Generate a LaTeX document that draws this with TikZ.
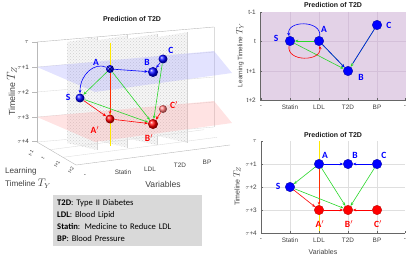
\documentclass[tikz,border=0pt]{standalone}
\usepackage{fontspec}
\setmainfont{Liberation Sans}
\newfontfamily\calfont{Carlito}
\usetikzlibrary{arrows.meta,patterns}
\definecolor{mblue}{RGB}{0,0,255}
\definecolor{mgreen}{RGB}{40,215,40}
\definecolor{mred}{RGB}{255,0,0}
\definecolor{myellow}{RGB}{255,232,0}
\definecolor{mpurple}{RGB}{227,210,231}
\definecolor{gridp}{RGB}{212,192,217}
\definecolor{legendgray}{RGB}{217,217,217}
\begin{document}
\begin{tikzpicture}[x=1pt,y=-1pt,
  every node/.style={inner sep=0pt},
  tk/.style={font=\fontsize{6.3}{7}\selectfont, text=black!80},
  tky/.style={font=\fontsize{4.8}{5}\selectfont, text=black!80},
  axl/.style={font=\fontsize{8.1}{12.5}\selectfont, text=black!75},
  axs/.style={font=\fontsize{6.4}{8}\selectfont, text=black!75},
  ttl/.style={font=\bfseries\fontsize{7}{8}\selectfont, text=black!90},
  lblb/.style={font=\calfont\bfseries\fontsize{9.5}{10}\selectfont, text=mblue},
  lblr/.style={font=\calfont\bfseries\fontsize{9.5}{10}\selectfont, text=mred},
  arr/.style={-{Stealth[length=3.4pt,width=2.8pt]}, line width=0.6pt},
  b3/.style={circle, inner sep=0pt, shading=ball, ball color=mblue},
  r3/.style={circle, inner sep=0pt, shading=ball, ball color=mred},
  d2b/.style={circle, inner sep=0pt, minimum size=9.5pt, fill=mblue, draw=blue!60!black, line width=0.3pt},
  d2r/.style={circle, inner sep=0pt, minimum size=9.5pt, fill=mred, draw=red!70!black, line width=0.3pt},
  boxline/.style={gray!55, line width=0.4pt},
  faint/.style={gray!28, line width=0.35pt},
  stripe/.style={fill=gray!7},
  stripedots/.style={pattern=crosshatch dots, pattern color=gray!38},
  axline/.style={black!60, line width=0.45pt}
]
\useasboundingbox (0,0) rectangle (414,259);

%================ 3D panel ================
\node[ttl] (t3d) at (132,19) {Prediction of T2D};

% back lines
\draw[boxline] (37,42) -- (214,27);
\draw[faint] (214,27) -- (214,127);
\draw[faint] (37,142) -- (214,127);
\foreach \z in {67,92,117} \draw[faint] (37,\z) -- (214,\z-15);

% dotted strips
\foreach \i in {0,1,2,3}{
  \pgfmathsetmacro{\L}{67+30*\i}
  \pgfmathsetmacro{\R}{97+30*\i}
  \pgfmathsetmacro{\tl}{42-1.6*\i}
  \pgfmathsetmacro{\tr}{37-1.6*\i}
  \pgfmathsetmacro{\br}{150-2.4*\i}
  \pgfmathsetmacro{\bl}{143-2.4*\i}
  \fill[stripe] (\L,\tl) -- (\R,\tr) -- (\R,\br) -- (\L,\bl) -- cycle;
  \fill[stripedots] (\L,\tl) -- (\R,\tr) -- (\R,\br) -- (\L,\bl) -- cycle;
  \draw[gray!35, line width=0.4pt] (\R,\tr) -- (\R,\br);
}

% floor
\draw[faint] (50,149.7) -- (204,129.7);
\draw[faint] (63,157.3) -- (217,137.3);
\draw[boxline] (37,142) -- (76,165) -- (230,145);

% horizontal planes
\fill[blue!40, opacity=0.28] (37,67) -- (214,51) -- (232,73) -- (95,92) -- cycle;
\fill[red!40, opacity=0.28] (37,117) -- (214,101) -- (232,123) -- (95,142) -- cycle;

% left z axis
\draw[boxline] (37,42) -- (37,142);
\foreach \z/\t/\n in {42/{$\tau$}/0, 67/{$\tau$+1}/1, 92/{$\tau$+2}/2, 117/{$\tau$+3}/3, 141/{$\tau$+4}/4}{
  \draw[boxline] (37,\z) -- (32,\z);
  \node[tk, anchor=east] (zt\n) at (29,\z) {\t};
}
% y ticks
\foreach \x/\y/\t/\n in {31/153/t-1/0, 43/158/t/1, 57/164/t+1/2, 71/170/t+2/3}{
  \node[tky, rotate=60] (yt\n) at (\x,\y) {\t};
}
% x ticks
\node[axs] (xt0) at (85,176) {-};
\node[axs] (xt1) at (123,172) {Statin};
\node[axs] (xt2) at (150,169) {LDL};
\node[axs] (xt3) at (180,165) {T2D};
\node[axs] (xt4) at (207,162) {BP};
\node[axl, font=\fontsize{8.6}{12}\selectfont] (xlab3) at (163,184) {Variables};
\node[axl, font=\fontsize{8.8}{13}\selectfont, rotate=90] (zlab3) at (12,91) {Timeline {\fontsize{12}{12}\selectfont$T_Z$}};
\node[axl, align=left, anchor=west] (ylab3) at (5,178) {Learning\\Timeline {\fontsize{10.5}{10.5}\selectfont$T_Y$}};

% yellow line
\coordinate (ytop3) at (110,43);
\coordinate (ybot3) at (110,146);
\draw[myellow, line width=1pt] (ytop3) -- (ybot3);

% nodes 3D
\node[b3, minimum size=8pt] (A3) at (110,69) {};
\node[b3, minimum size=9pt] (S3) at (80,98) {};
\node[b3, minimum size=10pt] (B3) at (153,72) {};
\node[b3, minimum size=9pt] (C3) at (163,59) {};
\node[r3, minimum size=9pt] (A3p) at (110,119) {};
\node[r3, minimum size=10pt] (B3p) at (153,124) {};
\node[r3, minimum size=8pt, ball color=red!55] (C3p) at (163,109) {};
\draw[blue!30!black, line width=0.6pt] (107.5,66.5) -- (112.5,71.5) (107.5,71.5) -- (112.5,66.5);

% connectors 3D
\draw[arr, mred, opacity=0.8] (A3) -- (A3p);
\draw[arr, mgreen] (A3) -- (S3);
\draw[arr, mgreen] (A3) -- (B3p);
\draw[arr, mgreen] (S3) -- (B3p);
\draw[arr, mgreen] (C3) -- (B3p);
\draw[arr, mred] (S3) -- (A3p);
\draw[arr, mred] (A3p) -- (B3p);
\draw[arr, mred] (C3p) -- (B3p);
\draw[arr, mblue] (A3) -- (B3);
\draw[arr, mblue] (C3) -- (B3);
\draw[arr, mblue] (A3) .. controls (95,62) and (80,74) .. (S3);

% labels 3D
\node[lblb] (lA3) at (96,62) {A};
\node[lblb] (lB3) at (147,62) {B};
\node[lblb] (lC3) at (171,50) {C};
\node[lblb] (lS3) at (68,97) {S};
\node[lblr] (lA3p) at (95,130) {A$'$};
\node[lblr] (lB3p) at (149,138) {B$'$};
\node[lblr] (lC3p) at (174,105) {C$'$};

% legend
\node[fill=legendgray, anchor=north west, minimum width=149pt, minimum height=51pt,
      text width=141pt, align=left, inner xsep=4pt,
      font=\calfont\fontsize{8.6}{12}\selectfont] (legend) at (53,195)
  {\textbf{T2D}: Type II Diabetes\\ \textbf{LDL}: Blood Lipid\\ \textbf{Statin}: Medicine to Reduce LDL\\ \textbf{BP}: Blood Pressure};

%================ top-right chart ================
\node[ttl] (t2a) at (333,5) {Prediction of T2D};
\fill[mpurple] (260,12) rectangle (406,100);
\foreach \x in {290,319,348,377} \draw[gridp, line width=0.4pt] (\x,12) -- (\x,100);
\foreach \y in {41,71} \draw[gridp, line width=0.4pt] (260,\y) -- (406,\y);
\draw[axline] (260,12) -- (260,100) -- (406,100);
\foreach \y/\t/\n in {12/t-1/0, 41/t/1, 71/t+1/2, 100/t+2/3}{
  \draw[axline] (260,\y) -- (262,\y);
  \node[axs, anchor=east] (ta\n) at (256,\y) {\t};
}
\foreach \x/\t/\n in {261/-/0, 290/Statin/1, 319/LDL/2, 348/T2D/3, 377/BP/4, 405/-/5}{
  \draw[axline] (\x,100) -- (\x,98);
  \node[axs, anchor=north] (xa\n) at (\x,105) {\t};
}
\node[axs, rotate=90] (ylabA) at (240,55) {Learning Timeline {\fontsize{9}{9}\selectfont$T_Y$}};

\node[d2b] (S2) at (290,41) {};
\node[d2b] (A2) at (319,41) {};
\node[d2b] (B2) at (348,71) {};
\node[d2b] (C2) at (377,25) {};
\draw[arr, mgreen] (A2) -- (S2);
\draw[arr, mgreen] (S2) -- (B2);
\draw[arr, mgreen] (A2) -- (B2);
\draw[arr, mgreen] (C2) -- (B2);
\draw[arr, mblue] (A2) -- (B2);
\draw[mblue, line width=0.6pt, shorten >=4pt] (C2) -- (B2);
\draw[arr, mblue] (A2) .. controls (322,20) and (286,20) .. (S2);
\draw[arr, mred] (S2) .. controls (286,62) and (322,62) .. (A2);
\node[lblb] (lS2) at (276,38) {S};
\node[lblb] (lA2) at (324,29) {A};
\node[lblb] (lB2) at (361,77) {B};
\node[lblb] (lC2) at (389,25) {C};

%================ bottom-right chart ================
\node[ttl] (t2b) at (333,135) {Prediction of T2D};
\foreach \x in {290,348,377} \draw[gray!25, line width=0.4pt] (\x,141) -- (\x,233);
\foreach \y in {164,187,210} \draw[gray!25, line width=0.4pt] (261,\y) -- (405,\y);
\coordinate (ytopB) at (319,141);
\coordinate (ybotB) at (319,233);
\draw[myellow, line width=1pt] (ytopB) -- (ybotB);
\draw[axline] (261,141) -- (261,233) -- (405,233);
\foreach \y/\t/\n in {141/{$\tau$}/0, 164/{$\tau$+1}/1, 187/{$\tau$+2}/2, 210/{$\tau$+3}/3, 233/{$\tau$+4}/4}{
  \draw[axline] (261,\y) -- (263,\y);
  \node[axs, anchor=east] (tb\n) at (257,\y) {\t};
}
\foreach \x/\t/\n in {261/-/0, 290/Statin/1, 319/LDL/2, 348/T2D/3, 377/BP/4, 405/-/5}{
  \draw[axline] (\x,233) -- (\x,231);
  \node[axs, anchor=north] (xb\n) at (\x,238) {\t};
}
\node[axs, font=\fontsize{7}{8}\selectfont] (xlabB) at (323,252) {Variables};
\node[axs, font=\fontsize{7}{8}\selectfont, rotate=90] (ylabB) at (237,186) {Timeline {\fontsize{9}{9}\selectfont$T_Z$}};

\node[d2b] (A4) at (319,164) {};
\node[d2b] (B4) at (348,164) {};
\node[d2b] (C4) at (377,164) {};
\node[d2b] (S4) at (290,187) {};
\node[d2r] (A4p) at (319,210) {};
\node[d2r] (B4p) at (348,210) {};
\node[d2r] (C4p) at (377,210) {};
\draw[arr, mred, opacity=0.8] (A4) -- (A4p);
\draw[arr, mgreen] (A4) -- (S4);
\draw[arr, mgreen] (A4) -- (B4p);
\draw[arr, mgreen] (S4) -- (B4p);
\draw[arr, mgreen] (C4) -- (B4p);
\draw[arr, mred] (S4) -- (A4p);
\draw[arr, mblue] (A4) -- (B4);
\draw[arr, mblue] (C4) -- (B4);
\draw[arr, mred] (A4p) -- (B4p);
\draw[arr, mred] (C4p) -- (B4p);
\node[lblb] (lA4) at (325,155) {A};
\node[lblb] (lB4) at (355,155) {B};
\node[lblb] (lC4) at (384,155) {C};
\node[lblb] (lS4) at (278,186) {S};
\node[lblr] (lA4p) at (320,224) {A$'$};
\node[lblr] (lB4p) at (349,224) {B$'$};
\node[lblr] (lC4p) at (378,224) {C$'$};
\end{tikzpicture}
\end{document}
